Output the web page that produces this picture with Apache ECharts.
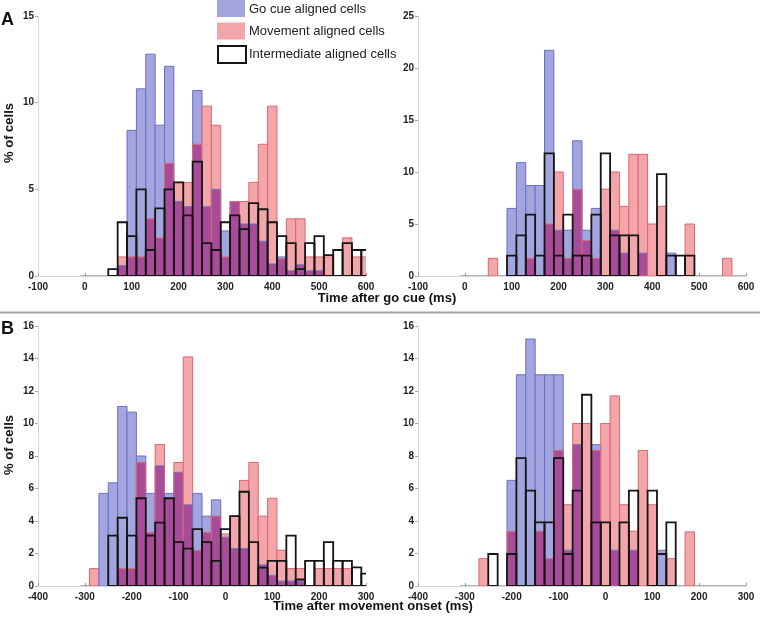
<!DOCTYPE html>
<html><head><meta charset="utf-8">
<script src="https://cdn.jsdelivr.net/npm/echarts@6/dist/echarts.min.js"></script>
<style>html,body{margin:0;padding:0;background:#fff}#c{width:760px;height:617px}</style>
</head><body><div id="c"></div>
<script>
// ---------- DATA (bin centres in ms, % of cells) ----------
// Panel A left
const binsAL = [60,80,100,120,140,160,180,200,220,240,260,280,300,320,340,360,380,400,420,440,460,480,500,520,540,560,580,600];
const goAL   = [0,0.6,8.4,10.8,12.8,8.7,12.1,4.3,4.0,10.7,4.0,5.0,2.6,4.3,3.0,3.0,2.0,0.7,1.1,0.3,0.65,0.3,0.3,0,0,0,0,0];
const mvAL   = [0,1.1,1.1,1.1,3.3,2.2,6.5,5.4,5.4,7.6,9.8,8.7,1.1,4.3,4.3,5.4,7.6,9.8,1.0,3.3,3.3,1.1,1.1,1.1,0,2.2,1.1,1.1];
const imAL   = [0.4,3.1,2.3,5.0,1.5,3.9,5.0,5.4,3.5,6.6,1.9,1.5,3.1,3.5,2.7,4.2,3.85,3.1,2.3,1.9,0.4,1.9,2.3,1.2,1.5,1.9,1.5,1.5];
// Panel A right
const binsAR = [60,100,120,140,160,180,200,220,240,260,280,300,320,340,360,380,400,420,440,460,480,560];
const goAR   = [0,6.5,10.9,8.7,8.7,21.7,4.4,4.4,13.0,4.4,6.5,0,4.4,2.2,0,2.2,0,0,2.2,0,0,0];
const mvAR   = [1.7,0,0,1.7,0,5.0,10.0,1.7,8.35,3.4,1.7,8.35,10.0,6.7,11.7,11.7,5.0,6.7,0,0,5.0,1.7];
const imAR   = [0,1.95,3.9,5.9,1.95,11.8,1.95,5.9,1.95,1.95,5.9,11.8,3.9,3.9,3.9,0,0,9.8,1.95,1.95,1.95,0];
// Panel B left
const binsBL = [-280,-260,-240,-220,-200,-180,-160,-140,-120,-100,-80,-60,-40,-20,0,20,40,60,80,100,120,140,160,180,200,220,240,260,280,300];
const goBL   = [0,5.7,6.35,11.05,10.7,8.0,5.7,7.4,5.7,7.0,5.0,5.7,4.3,5.3,3.0,2.3,2.3,0,1.3,0.66,0.3,0.3,0.3,0,0,0,0,0,0,0];
const mvBL   = [1.07,0,0,1.07,1.07,7.6,3.3,8.7,5.4,7.6,14.1,2.2,3.3,4.3,3.2,4.3,6.5,7.6,4.3,5.4,2.2,1.07,1.07,0,1.07,1.07,1.07,1.07,0,0];
const imBL   = [0,0,3.1,4.2,3.1,5.4,3.1,3.9,5.4,2.7,2.3,3.5,2.7,1.55,3.5,4.3,5.8,2.7,1.13,1.55,1.55,3.1,0.4,1.55,1.55,2.7,1.55,1.55,1.15,0.76];
// Panel B right
const binsBR = [-260,-240,-200,-180,-160,-140,-120,-100,-80,-60,-40,-20,0,20,40,60,80,100,120,140,180];
const goBR   = [0,0,6.5,13.0,15.2,13.0,13.0,13.0,2.2,8.7,0,8.7,0,2.2,0,2.2,0,0,2.2,0,0];
const mvBR   = [1.68,0,3.37,0,0,3.37,1.68,8.34,5.0,10.0,10.0,8.34,10.0,11.7,5.0,3.37,8.34,5.0,0,1.68,3.33];
const imBR   = [0,1.97,1.97,7.87,5.87,3.92,3.92,7.87,1.97,5.87,11.77,3.92,3.92,0,3.92,5.87,0,5.87,1.97,3.92,0];
// Histogram ranges (first bin edge .. axis end) that show as a baseline
const rangeAL = [-10, 600], rangeAR = [-10, 600], rangeBL = [-310, 300], rangeBR = [-310, 300];
const BIN = 20;

// x tick / y tick settings
const xA = {min:-100, max:600, interval:100};
const xB = {min:-400, max:300, interval:100};
const yAL = {max:15, interval:5}, yAR = {max:25, interval:5}, yB = {max:16, interval:2};

// ---------- STYLE ----------
const BLUE = '#a3a6de', RED = '#f2a6aa', PURPLE = '#a84c99';
const BLUE_EDGE = '#6b6fc4', RED_EDGE = '#e0636e';
const FONT = 'Liberation Sans, Arial, sans-serif';

const chart = echarts.init(document.getElementById('c'), null, {renderer:'canvas'});

function fillRender(params, api) {
  const c = api.value(0), b = api.value(1), r = api.value(2);
  const xl = api.coord([c - BIN/2, 0])[0], xr = api.coord([c + BIN/2, 0])[0];
  const y = v => api.coord([c, v])[1];
  const ch = [];
  const lo = Math.min(b, r);
  function rect(v0, v1, style) {
    const y0 = y(v0), y1 = y(v1);
    ch.push({type:'rect', shape:{x:xl, y:Math.min(y0,y1), width:xr-xl, height:Math.abs(y0-y1)}, style});
  }
  if (lo > 0) rect(0, lo, {fill:PURPLE});
  if (b > r) rect(lo, b, {fill:BLUE});
  if (r > b) rect(lo, r, {fill:RED});
  if (b > 0) rect(0, b, {fill:null, stroke:BLUE_EDGE, lineWidth:1});
  if (r > 0) rect(0, r, {fill:null, stroke:RED_EDGE, lineWidth:1});
  return {type:'group', children:ch};
}
function outlineRender(params, api) {
  const c = api.value(0), k = api.value(1);
  if (!(k > 0)) return null;
  const xl = api.coord([c - BIN/2, 0])[0], xr = api.coord([c + BIN/2, 0])[0];
  const y0 = api.coord([c, 0])[1], y1 = api.coord([c, k])[1];
  return {type:'rect', shape:{x:xl, y:y1, width:xr-xl, height:y0-y1},
          style:{fill:null, stroke:'#151515', lineWidth:1.8}};
}
function baseRender(params, api) {
  const p0 = api.coord([api.value(0), 0]), p1 = api.coord([api.value(1), 0]);
  return {type:'line', shape:{x1:p0[0], y1:p0[1], x2:p1[0], y2:p1[1]},
          style:{stroke:'#6a6a6a', lineWidth:1.2}};
}

const grids = [
  {left:38, top:16, width:328, height:260},
  {left:418, top:16, width:328, height:260},
  {left:38, top:326, width:328, height:260},
  {left:418, top:326, width:328, height:260}
];
const panels = [
  {bins:binsAL, go:goAL, mv:mvAL, im:imAL, range:rangeAL, x:xA, y:yAL},
  {bins:binsAR, go:goAR, mv:mvAR, im:imAR, range:rangeAR, x:xA, y:yAR},
  {bins:binsBL, go:goBL, mv:mvBL, im:imBL, range:rangeBL, x:xB, y:yB},
  {bins:binsBR, go:goBR, mv:mvBR, im:imBR, range:rangeBR, x:xB, y:yB}
];

const tickLabel = {fontFamily:FONT, fontWeight:'bold', fontSize:10, color:'#222'};
const xAxis = panels.map((p, i) => ({
  type:'value', gridIndex:i, min:p.x.min, max:p.x.max, interval:p.x.interval,
  axisLine:{show:true, onZero:false, lineStyle:{color:'#d8d8d8', width:1}},
  axisTick:{show:true, inside:true, length:3, lineStyle:{color:'#999'}},
  splitLine:{show:false},
  axisLabel:Object.assign({margin:6}, tickLabel)
}));
const yAxis = panels.map((p, i) => ({
  type:'value', gridIndex:i, min:0, max:p.y.max, interval:p.y.interval,
  axisLine:{show:true, onZero:false, lineStyle:{color:'#d8d8d8', width:1}},
  axisTick:{show:true, inside:false, length:3, lineStyle:{color:'#aaa'}},
  splitLine:{show:false},
  axisLabel:Object.assign({margin:4}, tickLabel)
}));

const series = [];
panels.forEach((p, i) => {
  series.push({type:'custom', xAxisIndex:i, yAxisIndex:i, clip:true, renderItem:baseRender,
    data:[[p.range[0], p.range[1]]], silent:true, z:1});
  series.push({type:'custom', xAxisIndex:i, yAxisIndex:i, clip:true, renderItem:fillRender,
    encode:{x:0, y:[1,2]},
    data:p.bins.map((c, j) => [c, p.go[j], p.mv[j]]), z:2});
  series.push({type:'custom', xAxisIndex:i, yAxisIndex:i, clip:true, renderItem:outlineRender,
    encode:{x:0, y:1},
    data:p.bins.map((c, j) => [c, p.im[j]]), z:3});
});

const titleFont = {fontFamily:FONT, fontWeight:'bold', fontSize:13, fill:'#111'};
const legendFont = {fontFamily:FONT, fontSize:13, fill:'#222'};
const graphic = [
  {type:'line', shape:{x1:0, y1:312.5, x2:760, y2:312.5}, style:{stroke:'#a5a5a5', lineWidth:2}},
  {type:'text', left:1, top:11, style:Object.assign({}, titleFont, {text:'A', fontSize:18})},
  {type:'text', left:1, top:320, style:Object.assign({}, titleFont, {text:'B', fontSize:18})},
  {type:'text', x:9, y:133, rotation:Math.PI/2, style:Object.assign({}, titleFont, {text:'% of cells', textAlign:'center', textVerticalAlign:'middle'})},
  {type:'text', x:9, y:445, rotation:Math.PI/2, style:Object.assign({}, titleFont, {text:'% of cells', textAlign:'center', textVerticalAlign:'middle'})},
  {type:'text', x:387, y:298, style:Object.assign({}, titleFont, {text:'Time after go cue (ms)', textAlign:'center', textVerticalAlign:'middle'})},
  {type:'text', x:373, y:606, style:Object.assign({}, titleFont, {text:'Time after movement onset (ms)', textAlign:'center', textVerticalAlign:'middle'})},
  // legend
  {type:'rect', shape:{x:217, y:0, width:28, height:17}, style:{fill:BLUE}},
  {type:'rect', shape:{x:217, y:22.5, width:28, height:17}, style:{fill:RED}},
  {type:'rect', shape:{x:218, y:46, width:28, height:17}, style:{fill:'#fff', stroke:'#151515', lineWidth:2}},
  {type:'text', x:249, y:9, style:Object.assign({}, legendFont, {text:'Go cue aligned cells', textVerticalAlign:'middle'})},
  {type:'text', x:249, y:31, style:Object.assign({}, legendFont, {text:'Movement aligned cells', textVerticalAlign:'middle'})},
  {type:'text', x:249, y:54, style:Object.assign({}, legendFont, {text:'Intermediate aligned cells', textVerticalAlign:'middle'})}
];

chart.setOption({
  animation:false,
  backgroundColor:'#fff',
  grid:grids, xAxis, yAxis, series, graphic
});
</script></body></html>
